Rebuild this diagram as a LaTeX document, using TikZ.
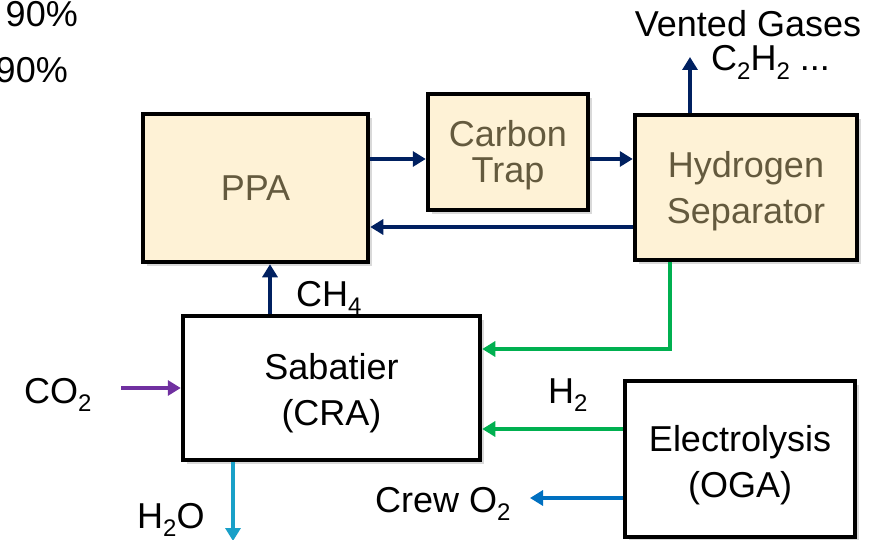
\documentclass[tikz,border=0pt]{standalone}
\usepackage{fontspec}
\setmainfont{Liberation Sans}
\usetikzlibrary{arrows.meta,shadows}
\definecolor{navy}{RGB}{0,32,96}
\definecolor{grn}{RGB}{0,176,80}
\definecolor{purp}{RGB}{112,48,160}
\definecolor{cyn}{RGB}{25,160,200}
\definecolor{blu}{RGB}{0,112,192}
\definecolor{beige}{RGB}{254,242,214}
\definecolor{tan}{RGB}{100,90,62}
\newcommand\sbs[1]{\raisebox{-0.24em}{\fontsize{24}{24}\selectfont #1}}
\begin{document}
\begin{tikzpicture}[x=1pt,y=-1pt,
  font=\fontsize{36}{46}\selectfont,
  box/.style={draw=black,line width=4.5pt,inner sep=0pt,align=center,
    drop shadow={opacity=0.3,shadow xshift=4pt,shadow yshift=-4pt}},
  tanbox/.style={box,fill=beige},
  whitebox/.style={box,fill=white},
  boxtext/.style={inner sep=0pt,align=center},
  arr/.style={line width=3.5pt,-{Triangle[length=13pt,width=15pt]}},
  lbl/.style={inner sep=0pt,anchor=base west}]
\useasboundingbox (0,0) rectangle (878,540);

% top-left cut-off texts
\node[inner sep=0pt,anchor=base east] (p1) at (78,27) {90\%};
\node[inner sep=0pt,anchor=base east] (p2) at (68,83) {90\%};

% boxes
\node[tanbox,minimum width=225pt,minimum height=148pt,
  label={[boxtext,text=tan]center:PPA}] (ppa) at (255.5,188) {};
\node[tanbox,minimum width=160pt,minimum height=116pt,
  label={[boxtext,text=tan,yshift=-3pt]center:{Carbon\\[-10pt]Trap}}] (ct) at (508,152) {};
\node[tanbox,minimum width=222pt,minimum height=145pt,
  label={[boxtext,text=tan,yshift=-3.5pt]center:{Hydrogen\\Separator}}] (hs) at (746,187.5) {};
\node[whitebox,minimum width=297pt,minimum height=144pt,
  label={[boxtext,yshift=-5pt]center:{Sabatier\\(CRA)}}] (sab) at (331.5,388) {};
\node[whitebox,minimum width=230pt,minimum height=156pt,
  label={[boxtext,yshift=-6pt]center:{Electrolysis\\(OGA)}}] (el) at (740,459) {};

% helper coordinates
\coordinate (r1) at (0,159);
\coordinate (r2) at (0,227);
\coordinate (r3) at (0,349);
\coordinate (r4) at (0,429);
\coordinate (r5) at (0,498);
\coordinate (r6) at (0,388);
\coordinate (c1) at (690,0);
\coordinate (c2) at (270,0);
\coordinate (c3) at (670,0);
\coordinate (c4) at (233,0);
\coordinate (vent) at (690,57);
\coordinate (crew) at (530,498);
\coordinate (co2s) at (121,388);
\coordinate (h2oe) at (233,541);

% connectors
\draw[arr,navy] (ppa.east |- r1) -- (ct.west |- r1);
\draw[arr,navy] (ct.east |- r1) -- (hs.west |- r1);
\draw[arr,navy] (hs.west |- r2) -- (ppa.east |- r2);
\draw[arr,navy] (hs.north -| c1) -- (vent);
\draw[arr,navy] (sab.north -| c2) -- (ppa.south -| c2);
\draw[arr,grn] (hs.south -| c3) |- (sab.east |- r3);
\draw[arr,grn] (el.west |- r4) -- (sab.east |- r4);
\draw[arr,blu] (el.west |- r5) -- (crew);
\draw[arr,purp] (co2s) -- (sab.west |- r6);
\draw[arr,cyn] (sab.south -| c4) -- (h2oe);

% labels
\node[inner sep=0pt,anchor=base] (vg) at (748,37) {Vented Gases};
\node[lbl] (c2h2) at (711,71) {C\sbs{2}H\sbs{2} ...};
\node[lbl] (ch4) at (296,306) {CH\sbs{4}};
\node[lbl] (h2) at (548,403) {H\sbs{2}};
\node[lbl] (co2) at (24,403) {CO\sbs{2}};
\node[lbl] (crewo2) at (375,512) {Crew O\sbs{2}};
\node[lbl] (h2o) at (137,528) {H\sbs{2}O};
\end{tikzpicture}
\end{document}
